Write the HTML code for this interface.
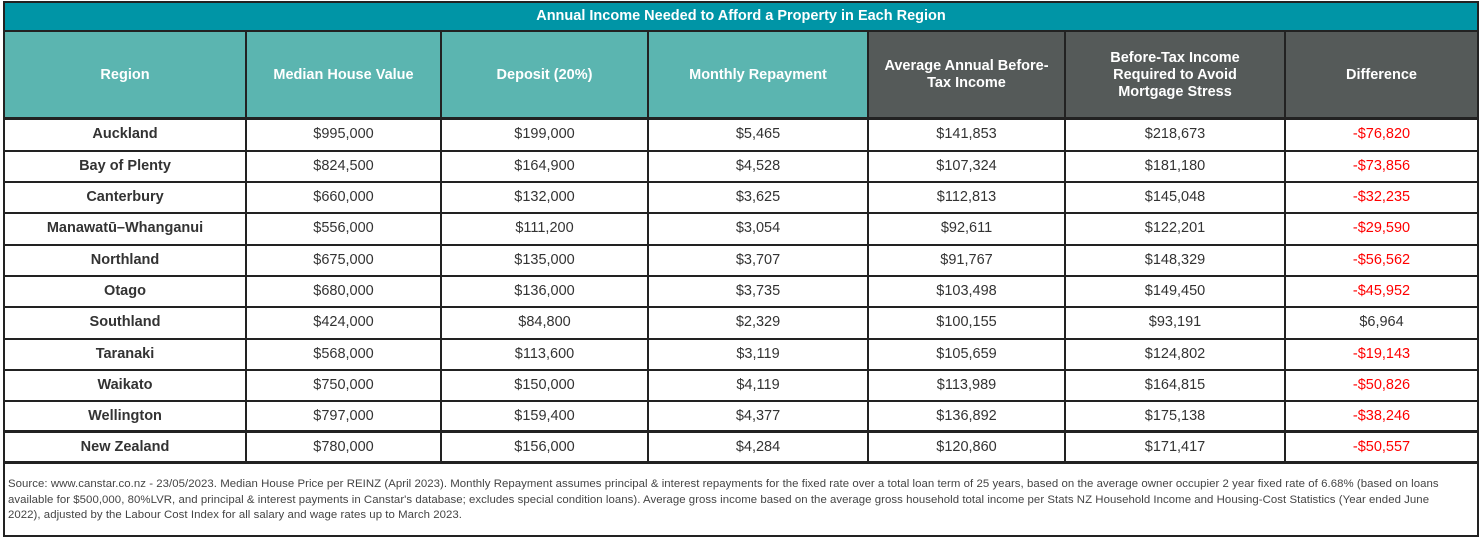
<!DOCTYPE html>
<html><head><meta charset="utf-8"><style>
body{margin:0;width:1483px;height:538px;background:#fff;font-family:"Liberation Sans",Arial,sans-serif;position:relative;overflow:hidden}
.a{position:absolute;box-sizing:border-box}
.c{position:absolute;display:flex;align-items:center;justify-content:center;text-align:center;font-size:14.5px;color:#333}
.h{color:#fff;font-weight:bold;font-size:14.5px;line-height:17px}
.b{font-weight:bold}
.r{color:#f00}
.vl{position:absolute;width:2px;background:#222}
.hl{position:absolute;height:2px;background:#222;left:3px;width:1476px}
</style></head><body>
<div class="a" style="left:3px;top:1px;width:1476px;height:536px;border:2px solid #222"></div>
<div class="a" style="left:5px;top:3px;width:1472px;height:27px;background:#0095a6"></div>
<div class="c h" style="left:5px;top:3px;width:1472px;height:27px;font-size:14.5px">Annual Income Needed to Afford a Property in Each Region</div>
<div class="a" style="left:5px;top:32px;width:863px;height:86px;background:#5bb5b0"></div>
<div class="a" style="left:868px;top:32px;width:609px;height:86px;background:#555a59"></div>
<div class="hl" style="top:30px"></div>
<div id="g"></div>
<div class="a" style="left:8px;top:477px;width:1456px;font-size:11.4px;line-height:15.5px;color:#444;letter-spacing:0.05px">Source: www.canstar.co.nz - 23/05/2023. Median House Price per REINZ (April 2023). Monthly Repayment assumes principal &amp; interest repayments for the fixed rate over a total loan term of 25 years, based on the average owner occupier 2 year fixed rate of 6.68% (based on loans available for $500,000, 80%LVR, and principal &amp; interest payments in Canstar's database; excludes special condition loans). Average gross income based on the average gross household total income per Stats NZ Household Income and Housing-Cost Statistics (Year ended June 2022), adjusted by the Labour Cost Index for all salary and wage rates up to March 2023.</div>
<script>
var xs=[4,246,441,648,868,1065,1285,1478];
var heads=["Region","Median House Value","Deposit (20%)","Monthly Repayment","Average Annual Before-<br>Tax Income","Before-Tax Income<br>Required to Avoid<br>Mortgage Stress","Difference"];
var rows=[
["Auckland","$995,000","$199,000","$5,465","$141,853","$218,673","-$76,820"],
["Bay of Plenty","$824,500","$164,900","$4,528","$107,324","$181,180","-$73,856"],
["Canterbury","$660,000","$132,000","$3,625","$112,813","$145,048","-$32,235"],
["Manawatū–Whanganui","$556,000","$111,200","$3,054","$92,611","$122,201","-$29,590"],
["Northland","$675,000","$135,000","$3,707","$91,767","$148,329","-$56,562"],
["Otago","$680,000","$136,000","$3,735","$103,498","$149,450","-$45,952"],
["Southland","$424,000","$84,800","$2,329","$100,155","$93,191","$6,964"],
["Taranaki","$568,000","$113,600","$3,119","$105,659","$124,802","-$19,143"],
["Waikato","$750,000","$150,000","$4,119","$113,989","$164,815","-$50,826"],
["Wellington","$797,000","$159,400","$4,377","$136,892","$175,138","-$38,246"],
["New Zealand","$780,000","$156,000","$4,284","$120,860","$171,417","-$50,557"]];
var ys=[118,150,181,212,244,275,306,338,369,400,431,462];
var h="";
for(var i=0;i<7;i++){h+='<div class="c h" style="left:'+xs[i]+'px;top:32px;width:'+(xs[i+1]-xs[i])+'px;height:86px">'+heads[i]+'</div>';}
for(var r=0;r<11;r++){for(var i=0;i<7;i++){var cls="c"+(i==0?" b":"")+(i==6&&rows[r][6][0]=="-"?" r":"");
h+='<div class="'+cls+'" style="left:'+xs[i]+'px;top:'+ys[r]+'px;width:'+(xs[i+1]-xs[i])+'px;height:'+(ys[r+1]-ys[r])+'px">'+rows[r][i]+'</div>';}}
for(var i=1;i<7;i++)h+='<div class="vl" style="left:'+(xs[i]-1)+'px;top:31px;height:431px"></div>';
for(var r=0;r<12;r++)h+='<div class="hl" style="top:'+(ys[r]-(r==0||r==10||r==11?1:0))+'px;'+(r==0||r==10||r==11?'height:3px':'height:1.5px')+'"></div>';
document.getElementById("g").innerHTML=h;
</script>
</body></html>
